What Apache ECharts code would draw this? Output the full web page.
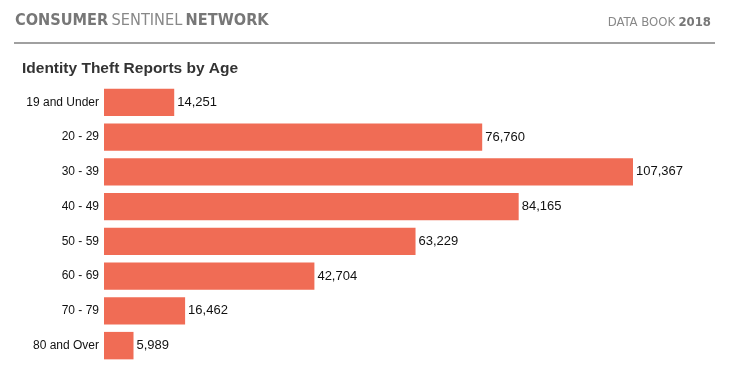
<!DOCTYPE html>
<html><head><meta charset="utf-8">
<script src="https://cdn.jsdelivr.net/npm/echarts@6/dist/echarts.min.js"></script>
<style>html,body{margin:0;padding:0;background:#fff}#c{width:733px;height:370px}</style>
</head><body><div id="c"></div>
<script>
const categories = ['19 and Under','20 - 29','30 - 39','40 - 49','50 - 59','60 - 69','70 - 79','80 and Over'];
const reports = [14251, 76760, 107367, 84165, 63229, 42704, 16462, 5989];
const headerBold1 = 'CONSUMER';
const headerMid = 'SENTINEL';
const headerBold2 = 'NETWORK';
const bookLabel = 'DATA BOOK';
const bookYear = '2018';
const chartTitle = 'Identity Theft Reports by Age';

const chart = echarts.init(document.getElementById('c'), null, {renderer:'canvas'});
chart.setOption({
  animation:false,
  backgroundColor:'#fff',
  graphic:[
    {type:'text', left:15, top:13, style:{
      rich:{b:{fontFamily:'DejaVu Sans Condensed', fontWeight:'bold', fontSize:16.2, fill:'#777'},
            r:{fontFamily:'DejaVu Sans Condensed', fontSize:16.2, fill:'#888'}},
      text:'{b|'+headerBold1+'} {r|'+headerMid+'} {b|'+headerBold2+'}'}},
    {type:'text', right:22, top:16, style:{
      rich:{b:{fontFamily:'DejaVu Sans Condensed', fontWeight:'bold', fontSize:13, fill:'#777'},
            r:{fontFamily:'DejaVu Sans Condensed', fontSize:13, fill:'#888'}},
      text:'{r|'+bookLabel+'} {b|'+bookYear+'}'}},
    {type:'rect', shape:{x:14, y:42, width:701, height:2}, style:{fill:'#a0a0a0'}}
  ],
  title:{text:chartTitle, left:22, top:61, padding:0,
    textStyle:{fontFamily:'Liberation Sans', fontWeight:'bold', fontSize:15.5, color:'#333'}},
  grid:{left:104, top:85, width:529, height:278},
  xAxis:{type:'value', min:0, max:107367, show:false},
  yAxis:{type:'category', data:categories, inverse:true,
    axisLine:{show:false}, axisTick:{show:false},
    axisLabel:{margin:5, fontFamily:'Liberation Sans', fontSize:12, color:'#111'}},
  series:[{type:'bar', data:reports, barCategoryGap:'21%',
    itemStyle:{color:'#f06c55'},
    label:{show:true, position:'right', distance:3, fontFamily:'Liberation Sans', fontSize:13, color:'#111',
      formatter:p=>p.value.toLocaleString('en-US')}}]
});
</script></body></html>
